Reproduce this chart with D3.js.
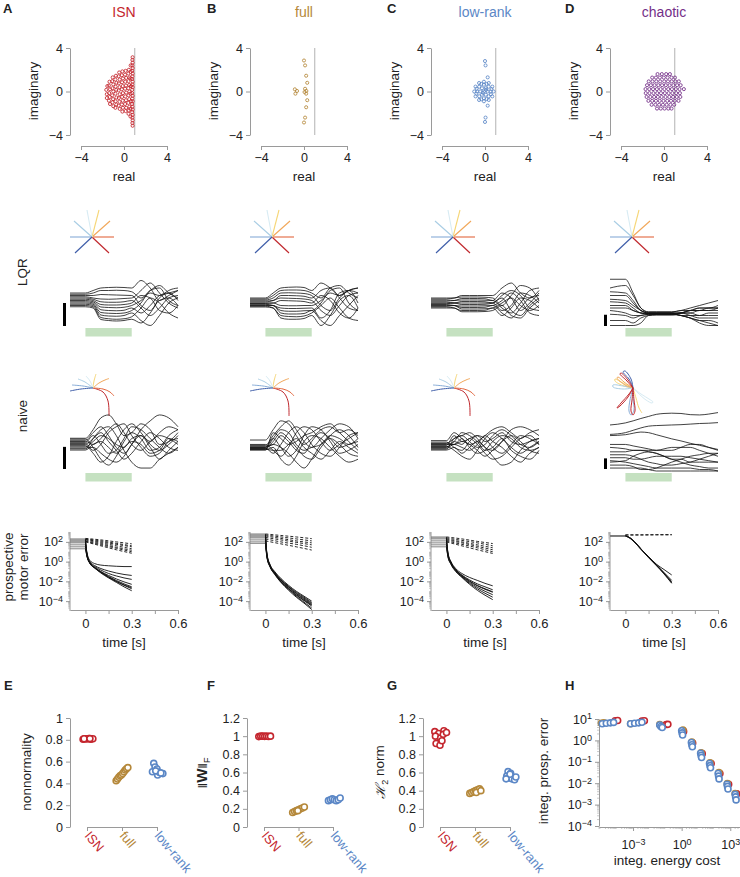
<!DOCTYPE html>
<html><head><meta charset="utf-8">
<script src="https://cdn.jsdelivr.net/npm/d3@7/dist/d3.min.js"></script>
<style>
body{margin:0;background:#fff;}
svg text{font-family:"Liberation Sans",Arial,Helvetica,sans-serif;fill:#222;}
</style></head><body>
<svg id="fig" width="740" height="877" viewBox="0 0 740 877"></svg>
<script>
// ================= DATA =================
const models = ["ISN","full","low-rank","chaotic"];
const letters = ["A","B","C","D"];
const modelColors = ["#c4262e","#b5883a","#5b87c6","#742f88"];
const eigTicks = [-4,0,4];

// eigenvalues [real, imaginary]
const isnEig = [
 [0.8,3.15],[0.78,2.9],[0.8,2.65],[0.77,2.4],[0.8,2.15],[0.76,1.9],[0.8,1.65],[0.78,1.4],[0.75,1.15],[0.8,0.9],[0.77,0.65],[0.8,0.4],[0.76,0.15],
 [0.8,-3.15],[0.78,-2.9],[0.8,-2.65],[0.77,-2.4],[0.8,-2.15],[0.76,-1.9],[0.8,-1.65],[0.78,-1.4],[0.75,-1.15],[0.8,-0.9],[0.77,-0.65],[0.8,-0.4],[0.76,-0.15],
 [-1.65,0.15],[-1.6,-0.25],[-1.55,0.5],[-1.6,-0.6],
 [-1.35,0.9],[-1.4,0.55],[-1.3,0.2],[-1.38,-0.15],[-1.32,-0.5],[-1.4,-0.85],[-1.3,-1.15],
 [-1.05,1.3],[-1.1,0.95],[-1.0,0.65],[-1.08,0.3],[-1.0,0.0],[-1.1,-0.35],[-1.02,-0.7],[-1.08,-1.0],[-1.0,-1.35],
 [-0.75,1.45],[-0.8,1.1],[-0.7,0.8],[-0.78,0.45],[-0.72,0.15],[-0.8,-0.2],[-0.7,-0.55],[-0.78,-0.9],[-0.72,-1.2],[-0.8,-1.5],
 [-0.45,1.75],[-0.5,1.4],[-0.4,1.1],[-0.48,0.75],[-0.42,0.4],[-0.5,0.1],[-0.4,-0.25],[-0.48,-0.6],[-0.42,-0.95],[-0.5,-1.3],[-0.4,-1.6],
 [-0.15,1.85],[-0.2,1.5],[-0.1,1.2],[-0.18,0.85],[-0.12,0.5],[-0.2,0.2],[-0.1,-0.15],[-0.18,-0.5],[-0.12,-0.85],[-0.2,-1.2],[-0.1,-1.5],[-0.15,-1.85],
 [0.15,1.9],[0.1,1.55],[0.2,1.25],[0.12,0.9],[0.18,0.55],[0.1,0.25],[0.2,-0.1],[0.12,-0.45],[0.18,-0.8],[0.1,-1.15],[0.2,-1.5],[0.15,-1.8],
 [0.45,2.0],[0.4,1.65],[0.5,1.3],[0.42,0.95],[0.48,0.6],[0.4,0.3],[0.5,0.0],[0.42,-0.35],[0.48,-0.7],[0.4,-1.05],[0.5,-1.4],[0.45,-1.75],[0.42,-2.05],
 [0.62,1.8],[0.6,1.2],[0.65,0.5],[0.6,-0.2],[0.65,-0.9],[0.6,-1.6],[0.62,2.4],[0.6,-2.3]
];
const fullEig = [[0,2.85],[0.1,2.4],[0.2,1.45],[0.3,0.8],[0.1,0.25],[0.22,0.05],[0.05,-0.05],[0.2,-0.2],
 [-0.85,0.2],[-0.65,0.05],[-0.8,-0.2],[0.3,-0.8],[0.2,-1.45],[0.1,-2.4],[0,-2.85]];
const lowEig = [[0.0,2.8],[0.05,2.4],[0.25,1.3],[0.25,-1.3],[0.05,-2.4],[0.0,-2.8],
 [0.8,0],[0.68,0.45],[0.35,0.78],[-0.1,0.9],[-0.55,0.78],[-0.88,0.45],[-1.0,0],[-0.88,-0.45],[-0.55,-0.78],[-0.1,-0.9],[0.35,-0.78],[0.68,-0.45],
 [0.52,0],[0.34,0.44],[-0.1,0.62],[-0.54,0.44],[-0.72,0],[-0.54,-0.44],[-0.1,-0.62],[0.34,-0.44],
 [0.25,0],[0.08,0.3],[-0.28,0.3],[-0.45,0],[-0.28,-0.3],[0.08,-0.3],
 [-0.1,0],[0.1,0.15],[-0.2,-0.12],
 [0.6,0.22],[0.55,-0.25],[-0.78,0.25],[-0.8,-0.2],[0.15,0.7],[-0.35,0.7],[0.15,-0.7],[-0.35,-0.72]];
// chaotic eigenvalues, rows of [imaginary, [reals]]
const chaoticRows = [
 [1.6,[-0.6,-0.2,0.2,0.55]],
 [1.28,[-1.1,-0.75,-0.38,-0.02,0.33,0.7,1.02]],
 [0.93,[-1.42,-1.07,-0.72,-0.36,0.02,0.37,0.72,1.05,1.38]],
 [0.58,[-1.58,-1.22,-0.88,-0.53,-0.18,0.17,0.52,0.87,1.22,1.55]],
 [0.22,[-1.72,-1.37,-1.02,-0.66,-0.31,0.04,0.39,0.74,1.1,1.45,1.85]],
 [-0.15,[-1.7,-1.35,-0.98,-0.63,-0.28,0.08,0.43,0.78,1.13,1.48]],
 [-0.5,[-1.62,-1.27,-0.92,-0.57,-0.22,0.14,0.49,0.84,1.19,1.52]],
 [-0.86,[-1.45,-1.1,-0.75,-0.4,-0.05,0.3,0.65,1.0,1.35]],
 [-1.22,[-1.15,-0.8,-0.45,-0.1,0.25,0.6,0.95]],
 [-1.57,[-0.65,-0.3,0.05,0.4,0.7]]
];

// single-neuron activity traces (arbitrary units) at these times [s]
const trajT = [-0.1,0,0.05,0.1,0.15,0.2,0.25,0.3,0.36,0.42,0.48,0.54,0.6];
const lqrISN = [
 [4,4,5,6,6.2,6.3,6.2,6,9,6,1,3,5],
 [3.5,3.5,4,5,5,5.1,5,4.5,2,5,7,4,2],
 [3,3,3,3.4,3.3,3.2,3.1,3,-1,-3,2,5,6],
 [2.5,2.5,2,1.6,1.5,1.6,1.8,2,5,8,4,0,-2],
 [2,2,1.5,0.5,0.3,0.3,0.5,1,-2,-5,-2,2,3],
 [1.5,1.5,1,-0.6,-0.8,-0.8,-0.6,0,3,2,-3,-4,-1],
 [1,1,0.5,-1.6,-1.8,-1.9,-1.7,-1,1,4,3,4,5],
 [0.5,0.5,0,-2.7,-3,-3.1,-2.9,-2,-4,-1,3,4,1],
 [0,0,-0.5,-3.8,-4.1,-4.2,-4,-3,0,5,6,1,-1],
 [-0.5,-0.5,-1,-4.8,-5.2,-5.3,-5,-4,-7,-9,-5,0,2],
 [-1,-1,-1.5,-5.8,-6.3,-6.5,-6.3,-5.5,-2,2,0,-4,-6],
 [-1.5,-1.5,-2,-6.6,-7,-7.2,-7,-6.5,-8,-4,1,2,-1]
];
const lqrFull = [
 [2,2,4,6,6.3,6.4,6.2,5,8,6,3,5,4],
 [1.6,1.6,3,5,5.2,5.2,5,4,2,6,7,4,2],
 [1.2,1.2,2,4,4.1,4,3.8,3,-1,-3,2,5,6],
 [0.8,0.8,1,3,3,2.9,2.7,2,5,6,2,-2,-3],
 [0.4,0.4,1,2,1.9,1.8,1.6,1,-3,-5,-1,3,4],
 [0,0,0,1,0.9,0.8,0.6,0,3,1,-4,-6,-2],
 [-0.2,-0.2,0,-1,-1.1,-1.1,-1,-1,1,4,3,5,6],
 [-0.5,-0.5,-1,-2,-2.2,-2.2,-2.1,-2,-6,-3,4,5,0],
 [-0.8,-0.8,-1,-3,-3.3,-3.3,-3.1,-3,0,5,6,0,-3],
 [-1,-1,-1,-4,-4.4,-4.4,-4.2,-3,-7,-9,-5,-1,3],
 [-1.3,-1.3,-2,-5,-5.4,-5.5,-5.2,-4,-1,2,-2,-6,-7],
 [-1.6,-1.6,-2,-6,-6.5,-6.5,-6.2,-5,-9,-5,1,3,-2]
];
const lqrLow = [
 [2,2,2,3,3,3,3,3,6,8,4,2,5],
 [1.6,1.6,2,2.4,2.4,2.4,2.3,2,-1,3,7,6,1],
 [1.2,1.2,1,1.8,1.8,1.8,1.7,1,4,2,-3,0,4],
 [0.8,0.8,1,1.2,1.2,1.2,1.1,1,-2,-4,0,5,6],
 [0.4,0.4,0,0.6,0.6,0.6,0.5,0,3,5,3,-2,-3],
 [0,0,0,0,0,0,0,0,-3,-1,4,3,0],
 [-0.3,-0.3,0,-0.6,-0.6,-0.6,-0.5,0,2,-3,-5,-1,2],
 [-0.6,-0.6,-1,-1.2,-1.2,-1.2,-1.1,-1,1,4,1,-4,-5],
 [-1,-1,-1,-1.8,-1.8,-1.8,-1.7,-1,-4,-6,-2,2,3],
 [-1.3,-1.3,-1,-2.4,-2.4,-2.4,-2.3,-2,0,2,-1,-3,-1],
 [-1.6,-1.6,-2,-3,-3,-3,-2.9,-2,-5,-2,2,1,-2],
 [-2,-2,-2,-3.5,-3.5,-3.5,-3.4,-3,-1,-5,-6,-2,1]
];
const lqrChaotic = [
 [9.5,9.5,4,-2,-3.5,-3.5,-3.5,-3.5,-3,-2,-1,0,1],
 [6,7,3,-2,-3.7,-3.7,-3.7,-3.7,-3,-3,-2,-2,-1],
 [4.5,4,1,-3,-3.9,-3.9,-3.9,-3.9,-4,-3,-3,-3,-2],
 [3,3,0,-3,-4,-4,-4,-4,-5,-5,-5,-4,-4],
 [1.5,1,-1,-3,-4.1,-4.1,-4.1,-4.1,-4,-5,-6,-6,-6],
 [0.5,0,-2,-4,-4.2,-4.2,-4.2,-4.2,-5,-6,-7,-7,-8],
 [-1,-1,-3,-4,-4.3,-4.3,-4.3,-4.3,-4,-4,-5,-5,-5],
 [-2,-2,-3,-4,-4.4,-4.4,-4.4,-4.4,-5,-6,-8,-9,-9],
 [-3,-4,-5,-5,-4.5,-4.5,-4.5,-4.5,-4,-3,-2,-2,-2],
 [-4.5,-5,-6,-5,-4.6,-4.6,-4.6,-4.6,-4,-4,-3,-3,-3],
 [-7,-7,-8,-6,-5,-4.7,-4.7,-4.7,-5,-6,-7,-8,-9],
 [-9,-9,-9,-8,-5,-4.8,-4.8,-4.8,-4,-3,-3,-2,-2]
];
const naiveISN = [
 [1.1,1.1,4,8,9,6,2,3,6,4,-1,0,3],
 [0.8,0.8,-2,-6,-8,-5,0,3,1,-3,-2,2,4],
 [0.4,0.4,3,5,2,-2,-4,-1,4,7,9,8,5],
 [0,0,-1,1,4,6,3,-1,-3,0,2,1,-1],
 [-0.3,-0.3,2,-1,-4,-3,1,5,4,1,-2,-4,-2],
 [-0.7,-0.7,-3,-1,3,5,6,2,-2,-5,-4,0,1],
 [-1,-1,1,3,0,-3,-6,-4,0,3,1,-2,-3],
 [-1.4,-1.4,-4,-7,-5,0,4,6,3,-1,-3,-1,2],
 [-1.8,-1.8,0,2,1,-1,-2,1,2,0,3,5,4],
 [-2.2,-2.2,-2,-4,-6,-7,-5,-1,2,-2,-6,-3,0],
 [-2.5,-2.5,1,4,5,2,-3,-7,-9,-9,-6,-4,-2],
 [-2.9,-2.9,-1,0,-2,-4,-2,0,-1,-4,-3,1,0]
];
const naiveFull = [
 [0.5,0.5,4,7,6,2,-1,1,4,5,3,4,2],
 [-1,-1,-3,-5,-2,3,5,4,0,-3,-1,1,3],
 [-1.3,-1.3,2,5,7,4,0,-2,1,4,6,5,1],
 [-1.6,-1.6,-1,2,0,-3,-4,0,3,1,-2,-1,0],
 [-1.9,-1.9,1,-2,-5,-3,2,5,4,0,-4,-3,-1],
 [-2.2,-2.2,-4,-1,3,5,3,-1,-4,-5,-2,2,3],
 [-2.5,-2.5,0,3,1,-2,-5,-6,-2,2,4,2,-2],
 [-2.8,-2.8,-2,-6,-8,-5,0,2,1,-2,-5,-7,-6],
 [-2.9,-2.9,3,1,-1,0,2,3,5,6,3,0,-3],
 [-2.6,-2.6,-3,-3,-1,1,-2,-4,-6,-3,0,-2,-4],
 [-2.3,-2.3,1,4,3,-1,-3,-2,-1,2,1,-1,1],
 [-2,-2,-1,-2,-4,-7,-9,-6,-1,1,-1,-4,-5]
];
const naiveLow = [
 [0.3,0.3,3,1,-1,0,2,4,5,3,1,3,4],
 [-0.2,-0.2,-2,-3,0,2,1,-2,-4,-1,2,1,-1],
 [-0.6,-0.6,1,2,3,1,-2,-3,0,4,5,4,2],
 [-1,-1,-1,1,-2,-4,-3,0,2,1,-2,-3,-2],
 [-1.3,-1.3,2,0,1,2,0,1,3,0,-1,0,1],
 [-1.6,-1.6,-3,-5,-6,-3,1,3,1,-2,-4,-2,0],
 [-2,-2,0,-1,1,-1,-4,-6,-5,-2,1,2,-1],
 [-2.3,-2.3,-1,-2,-3,-1,2,0,-2,-5,-7,-4,-2],
 [-2.6,-2.6,1,2,0,-2,-1,2,4,2,-1,-2,0],
 [-2.9,-2.9,-2,-4,-2,0,-2,-5,-8,-7,-3,0,1],
 [-1.8,-1.8,0,3,2,0,-3,-2,1,-3,-5,-6,-3],
 [-0.8,-0.8,-1,0,-1,-3,-5,-3,0,2,0,-3,-4]
];
const naiveChaotic = [
 [5.6,6.3,7,7.8,8.5,9.2,9.5,9.6,9.5,9.1,9.0,9.3,9.8],
 [2.4,3,3.8,4.6,5.2,5.4,5.5,5.6,5.7,5.9,6.1,6.2,6.4],
 [2,2.3,2.8,3.2,3,2.3,1.6,0.9,0.2,-0.6,-1.3,-2,-2.7],
 [-1,-1,-1.5,-2,-2.5,-3,-3,-3,-2,-1,-1,-2,-3],
 [-2,-2.5,-3,-3,-3,-3,-2.5,-2,-2,-2,-3,-4,-5],
 [-3.5,-3.5,-3,-3,-3.5,-4,-5,-6,-6,-7,-7,-7,-7],
 [-4.5,-4.5,-5,-6,-7,-7.5,-8,-8,-7.5,-7,-6,-5,-4],
 [-5.5,-5.5,-6,-6,-5.5,-5,-5,-5,-5,-5.5,-6,-6.5,-7],
 [-6.5,-7,-7.5,-8,-8.5,-9,-9,-9,-9,-9,-9.5,-9.5,-10],
 [-8,-8,-8.5,-9.5,-9.5,-9,-8,-7,-6,-5,-4.5,-4,-4],
 [-9,-9,-9,-9,-9.5,-10,-10,-10,-10,-10,-10,-10,-10],
 [-7,-6.5,-5,-4,-3.5,-4,-5,-6,-7,-8,-8.5,-9,-9]
];
const lqrBar = [9.2,null,null,4.5];
const naiveBar = [7.5,null,null,3.6];

// hand reaches (cm), 8 targets
const reachColors = ["#c0282d","#e2673f","#f1a75a","#f6d677","#d7ebf3","#a9cde4","#87acd7","#3f5ea9"];
const lqrReach = [[1.7,-1.6],[2.2,0],[1.8,1.6],[0.7,2.7],[-0.5,2.7],[-1.8,1.6],[-2.2,0],[-1.7,-1.6]];
const naiveReach = [
 [[0,0],[1,-0.4],[1.5,-1.3],[1.6,-2.8]],
 [[0,0],[1,-0.1],[1.7,-0.4],[2.1,-0.8]],
 [[0,0],[0.6,0.5],[1.2,0.8],[1.6,0.95]],
 [[0,0],[0.1,0.7],[0.3,1.4]],
 [[0,0],[-0.3,0.7],[-0.7,1.2]],
 [[0,0],[-0.8,0.6],[-1.5,0.9]],
 [[0,0],[-1,0.2],[-2.1,0.3]],
 [[0,0],[-1.2,-0.1],[-2.3,-0.3]]
];
const chaoticReach = [
 [[0,0],[-1,0.5],[-1.8,0.9],[-1.8,0.7],[-0.9,0.2],[0,0]],
 [[0,0],[-1,0.2],[-2,0.3],[-2,0.1],[-1,-0.1],[0,0]],
 [[0,0],[0.8,-0.6],[1.6,-1.1],[2.0,-1.4],[1.9,-1.5],[1.3,-1.2],[0.5,-0.5],[0,0]],
 [[0,0],[-0.9,0.6],[-1.5,1.1],[-1.6,1.0],[-0.8,0.3],[0,0]],
 [[0,0],[0.3,-1],[0.6,-2],[0.9,-2.5]],
 [[0,0],[-0.4,0.9],[-1.0,1.6],[-0.8,1.7],[-0.2,0.9],[0,0]],
 [[0,0],[-0.3,-1.2],[-0.4,-2.3],[-0.2,-2.7],[0.1,-2.2],[0,-1.1],[0,0]],
 [[0,0],[-0.7,0.8],[-1.3,1.4],[-1.2,1.5],[-0.5,0.8],[0,0]],
 [[0,0],[-0.5,-0.9],[-1.3,-1.8],[-1.6,-2.0],[-1.2,-1.5],[-0.4,-0.6],[0,0]],
 [[0,0],[-0.1,-1.2],[-0.2,-2.3],[0,-2.7],[0.2,-2.3],[0.1,-1.2],[0,0]]
];
const chaoticReachColor = [3,5,4,2,3,7,6,0,0,0];

// prospective motor error, log10 values
const errT = [-0.1,0,0.01,0.03,0.06,0.1,0.15,0.2,0.25,0.3];
const errSolid = [
 [[2.3,2.3,0.9,0.1,-0.2,-0.35,-0.42,-0.47,-0.5,-0.5],
  [2.1,2.1,0.8,0,-0.4,-0.7,-0.95,-1.15,-1.3,-1.4],
  [1.9,1.9,0.7,-0.1,-0.5,-0.85,-1.2,-1.45,-1.65,-1.8],
  [1.7,1.7,0.6,-0.15,-0.6,-1.0,-1.4,-1.75,-2.05,-2.3],
  [1.5,1.5,0.6,-0.2,-0.62,-1.05,-1.5,-1.9,-2.25,-2.55],
  [2.2,2.2,0.7,-0.2,-0.65,-1.1,-1.6,-2.0,-2.4,-2.75],
  [1.3,1.3,0.5,-0.2,-0.65,-1.15,-1.65,-2.1,-2.55,-2.95],
  [2.0,2.0,0.7,-0.15,-0.6,-1.05,-1.55,-2.0,-2.35,-2.65]],
 [[2.8,2.8,0.8,-0.3,-1.0,-1.7,-2.4,-3.0,-3.5,-4.0],
  [2.6,2.6,0.7,-0.35,-1.1,-1.8,-2.5,-3.1,-3.6,-4.15],
  [2.4,2.4,0.6,-0.4,-1.15,-1.9,-2.6,-3.25,-3.8,-4.35],
  [2.2,2.2,0.5,-0.5,-1.2,-2.0,-2.75,-3.4,-3.95,-4.5],
  [2.0,2.0,0.5,-0.5,-1.25,-2.05,-2.8,-3.5,-4.1,-4.7],
  [1.85,1.85,0.4,-0.55,-1.3,-2.1,-2.9,-3.6,-4.2,-4.85],
  [2.5,2.5,0.6,-0.45,-1.2,-2.0,-2.7,-3.35,-3.9,-4.4],
  [2.7,2.7,0.7,-0.4,-1.1,-1.85,-2.55,-3.2,-3.7,-4.25]],
 [[2.5,2.5,0.9,0.0,-0.7,-1.2,-1.6,-1.9,-2.2,-2.45],
  [2.3,2.3,0.8,-0.1,-0.8,-1.35,-1.85,-2.25,-2.55,-2.85],
  [2.1,2.1,0.7,-0.15,-0.85,-1.45,-2.0,-2.45,-2.8,-3.1],
  [1.9,1.9,0.6,-0.2,-0.9,-1.5,-2.1,-2.6,-3.0,-3.35],
  [1.7,1.7,0.5,-0.25,-0.95,-1.55,-2.2,-2.75,-3.2,-3.6],
  [1.5,1.5,0.5,-0.3,-1.0,-1.6,-2.3,-2.9,-3.4,-3.85],
  [2.4,2.4,0.8,-0.1,-0.8,-1.4,-1.95,-2.4,-2.75,-3.05]],
 [[2.6,2.6,2.55,2.4,2.0,1.3,0.5,-0.3,-1.1,-1.9],
  [2.6,2.6,2.55,2.4,2.0,1.3,0.45,-0.35,-1.15,-2.05],
  [2.6,2.6,2.55,2.4,1.95,1.25,0.45,-0.35,-1.2,-2.15],
  [2.6,2.6,2.55,2.4,2.0,1.3,0.5,-0.25,-0.8,-1.35],
  [2.6,2.6,2.55,2.35,1.95,1.25,0.4,-0.4,-1.25,-2.2]]
];
const dashT = [0,0.1,0.2,0.3];
const errDashed = [
 [[2.35,2.2,2.0,1.8],[2.3,2.1,1.85,1.6],[2.25,2.0,1.75,1.5],[2.2,1.9,1.6,1.3],[2.1,1.8,1.45,1.15],[2.05,1.7,1.35,1.0],[2.0,1.6,1.2,0.85]],
 [[2.8,2.65,2.5,2.33],[2.7,2.5,2.3,2.1],[2.6,2.35,2.1,1.9],[2.45,2.2,1.95,1.7],[2.3,2.0,1.75,1.45],[2.1,1.8,1.5,1.17]],
 [[2.5,2.3,2.05,1.83],[2.4,2.15,1.9,1.6],[2.3,2.0,1.7,1.4],[2.2,1.9,1.55,1.2],[2.1,1.75,1.4,1.0],[2.0,1.6,1.2,0.83]],
 [[2.7,2.7,2.72,2.73],[2.7,2.71,2.72,2.72]]
];

// summary panels E-G
const cats = ["ISN","full","low-rank"];
const catColors = ["#c4262e","#b5883a","#5b87c6"];
const nnVals = [[0.805,0.81,0.808,0.812,0.806,0.81,0.809,0.811],
 [0.425,0.44,0.456,0.47,0.477,0.49,0.507,0.523,0.535,0.545],
 [0.584,0.55,0.532,0.507,0.49,0.477,0.5,0.515,0.495]];
const nnJit = [[-0.6,-0.3,0,0.3,0.6,0.9,-0.45,0.45],
 [-0.9,-0.7,-0.5,-0.3,-0.1,0.1,0.3,0.5,0.7,0.9],
 [-0.5,-0.3,0,-0.7,0.9,0.1,0.4,-0.2,0.6]];
const wfVals = [[0.995,1.0,1.0,0.998,1.0,0.997,1.0],
 [0.16,0.17,0.18,0.19,0.2,0.21,0.22,0.18],
 [0.29,0.3,0.31,0.3,0.29,0.3,0.32]];
const wfJit = [[-0.8,-0.5,-0.2,0.1,0.4,0.7,1.0],
 [-0.9,-0.6,-0.3,0,0.3,0.6,0.9,-0.1],
 [-0.7,-0.4,-0.1,0.2,0.5,0.8,1.1]];
const h2Vals = [[1.05,1.03,1.06,1.0,0.98,1.02,0.92,0.9,0.95,1.04],
 [0.37,0.38,0.39,0.4,0.41,0.42,0.38,0.4],
 [0.61,0.59,0.56,0.54,0.53,0.52,0.55,0.58,0.53]];
const h2Jit = [[-0.8,-0.2,0.6,-0.7,0.1,0.5,-0.6,0.0,0.3,1.0],
 [-0.8,-0.5,-0.2,0.1,0.4,0.7,0.2,0.9],
 [-0.3,0.1,-0.5,-0.2,0.3,0.7,0.9,0.0,-0.6]];
const unitTicks = [0,0.2,0.4,0.6,0.8,1];
const unitTicks12 = [0,0.2,0.4,0.6,0.8,1,1.2];

// panel H: [log10 energy cost, log10 prospective error]
const hISN = [[-4.1,0.92],[-3.95,0.93],[-2.45,0.9],[-2.3,0.92],[-0.95,0.74],[-0.85,0.75],[0.12,0.42],[0.68,-0.12],[1.27,-0.62],[1.82,-1.08],[2.36,-1.55],[2.9,-2.05],[3.4,-2.5]];
const hFull = [[-4.95,0.8],[-4.8,0.82],[-3.15,0.78],[-1.35,0.74],[0.08,0.48],[0.63,-0.08],[1.2,-0.58],[1.75,-1.05],[2.3,-1.5],[2.82,-2.02],[3.3,-2.48]];
const hLow = [[-4.9,0.78],[-4.65,0.8],[-4.4,0.82],[-4.2,0.84],
 [-3.15,0.78],[-2.9,0.8],[-2.65,0.82],[-2.45,0.85],
 [-1.35,0.72],[-1.28,0.65],[-1.2,0.6],
 [0.0,0.45],[0.03,0.35],[0.06,0.25],
 [0.6,-0.1],[0.63,-0.2],[0.66,-0.3],
 [1.17,-0.6],[1.2,-0.7],[1.23,-0.8],
 [1.72,-1.08],[1.75,-1.18],[1.78,-1.28],
 [2.25,-1.55],[2.28,-1.67],[2.31,-1.8],
 [2.8,-2.05],[2.83,-2.15],[2.86,-2.27],
 [3.3,-2.52],[3.33,-2.64],[3.36,-2.78]];

// ================= DRAWING =================
const svg = d3.select("#fig");
const colX = [0,180,361,540];
const AX = "#9a9a9a";

function styleAxis(g, fs){
  g.select(".domain").attr("stroke",AX).attr("stroke-width",1);
  g.selectAll(".tick line").attr("stroke",AX).attr("stroke-width",1);
  g.selectAll(".tick text").attr("fill","#222").style("font-size",(fs||12.5)+"px");
}
function label(x,y,s,opt={}){
  const t = svg.append("text").attr("x",x).attr("y",y).attr("text-anchor",opt.anchor||"middle")
    .style("font-size",(opt.fs||13.5)+"px").text(s);
  if(opt.rot) t.attr("transform",`rotate(${opt.rot},${x},${y})`);
  if(opt.fill) t.style("fill",opt.fill);
  if(opt.bold) t.style("font-weight","bold");
  return t;
}
function sup(sel){
  sel.each(function(d){
    const e = Math.round(Math.log10(d));
    const t = d3.select(this); t.text("10");
    t.append("tspan").attr("dy","-0.45em").style("font-size","9px").text(e<0?"\u2212"+(-e):e);
  });
}
function logMinor(g, scale, orient, pos, lo, hi){
  for(let k=lo;k<=hi;k++){
    for(let m=2;m<=9;m++){
      const v=m*Math.pow(10,k);
      const d=scale.domain(); if(v<Math.min(...d)||v>Math.max(...d)) continue;
      const p=scale(v);
      if(orient==="left") g.append("line").attr("x1",pos).attr("x2",pos-2).attr("y1",p).attr("y2",p);
      else g.append("line").attr("y1",pos).attr("y2",pos+2).attr("x1",p).attr("x2",p);
    }
  }
  g.selectAll("line").attr("stroke","#bbb").attr("stroke-width",0.8);
}

// ---- row 1: eigenvalue spectra ----
const letterX = [3,207,387,565];
const chaoticEig = chaoticRows.flatMap(([im,res])=>res.map(re=>[re,im]));
const eigSets = [isnEig, fullEig, lowEig, chaoticEig];
models.forEach((m,c)=>{
  const ox = colX[c];
  label(letterX[c], 13, letters[c], {anchor:"start", fs:13, bold:true});
  label(124+ox, 17, m, {fs:14, fill:modelColors[c]});
  const x = d3.scaleLinear([-4,4],[81+ox,167+ox]);
  const y = d3.scaleLinear([-4,4],[135,48]);
  const gy = svg.append("g").attr("transform",`translate(${70+ox},0)`)
    .call(d3.axisLeft(y).tickValues(eigTicks).tickSize(4).tickSizeOuter(0).tickPadding(3));
  styleAxis(gy);
  const gx = svg.append("g").attr("transform",`translate(0,146)`)
    .call(d3.axisBottom(x).tickValues(eigTicks).tickSize(4).tickSizeOuter(0).tickPadding(3));
  styleAxis(gx);
  svg.append("line").attr("x1",x(1)).attr("x2",x(1)).attr("y1",y(4)).attr("y2",y(-4))
    .attr("stroke","#aaa").attr("stroke-width",0.9);
  svg.append("g").selectAll("circle").data(eigSets[c]).join("circle")
    .attr("cx",d=>x(d[0])).attr("cy",d=>y(d[1])).attr("r",1.55)
    .attr("fill","none").attr("stroke",modelColors[c]).attr("stroke-width",0.85);
  label(124+ox, 181, "real");
  label(38+ox, 91, "imaginary", {rot:-90});
});

// ---- rows 2-3: reaches and neural activity ----
label(27, 272, "LQR", {rot:-90});
label(27, 416, "naive", {rot:-90});
const lqrSets = [lqrISN, lqrFull, lqrLow, lqrChaotic];
const naiveSets = [naiveISN, naiveFull, naiveLow, naiveChaotic];
function timeScale(c){ return d3.scaleLinear([-0.1,0.6],[70+colX[c],178+colX[c]]); }
function drawStar(cx, cy, paths, colors, curve, w){
  const sx = d3.scaleLinear([-1,1],[cx-10,cx+10]);
  const sy = d3.scaleLinear([-1,1],[cy+10,cy-10]);
  const ln = d3.line().x(d=>sx(d[0])).y(d=>sy(d[1])).curve(curve);
  svg.append("g").selectAll("path").data(paths).join("path")
    .attr("d",ln).attr("fill","none").attr("stroke",(d,i)=>colors[i]).attr("stroke-width",w);
}
function drawTraces(c, data, yr, barY, barLen, bar){
  const x = timeScale(c);
  const y = d3.scaleLinear([-10,10], yr);
  const ln = d3.line().x((d,i)=>x(trajT[i])).y(d=>y(d)).curve(d3.curveMonotoneX);
  svg.append("g").selectAll("path").data(data).join("path")
    .attr("d",ln).attr("fill","none").attr("stroke","#111").attr("stroke-width",0.8);
  svg.append("rect").attr("x",x(0)).attr("width",x(0.3)-x(0)).attr("y",barY).attr("height",8.5)
    .attr("fill","#c5e1c1");
  if(bar!=null){
    const pxPerUnit = Math.abs(y(1)-y(0));
    svg.append("rect").attr("x",63+colX[c]+(c===3?1:0)).attr("width",3)
      .attr("y",barLen-bar*pxPerUnit).attr("height",bar*pxPerUnit).attr("fill","#000");
  }
}
models.forEach((m,c)=>{
  const ox = colX[c];
  drawStar(92+ox, 237, lqrReach.map(e=>[[0,0],e]), reachColors, d3.curveLinear, 1.1);
  drawTraces(c, lqrSets[c], [328,278], 328, 326, lqrBar[c]);
  if(c<3) drawStar(93+ox, 388, naiveReach, reachColors, d3.curveCatmullRom, 1.0);
  else drawStar(633, 388, chaoticReach, chaoticReachColor.map(i=>reachColors[i]), d3.curveCatmullRom, 1.0);
  drawTraces(c, naiveSets[c], [471,412], 473, 469, naiveBar[c]);
});

// ---- row 4: prospective motor error ----
label(13, 567, "prospective", {rot:-90});
label(28, 567, "motor error", {rot:-90});
models.forEach((m,c)=>{
  const ox = colX[c];
  const x = timeScale(c);
  const y = d3.scaleLog([1e-5,1e3],[611,532]);
  const gm = svg.append("g"); logMinor(gm, y, "left", 70+ox, -5, 2);
  const gy = svg.append("g").attr("transform",`translate(${70+ox},0)`)
    .call(d3.axisLeft(y).tickValues([1e-4,1e-2,1,1e2]).tickSize(4).tickSizeOuter(0).tickPadding(3));
  styleAxis(gy); sup(gy.selectAll(".tick text"));
  gy.select(".domain").attr("d",`M0,${y(1e3)}V${y(1e-5)}`);
  const gx = svg.append("g").attr("transform",`translate(0,610)`)
    .call(d3.axisBottom(x).tickValues([0,0.15,0.3,0.45,0.6]).tickSize(4).tickSizeOuter(0).tickPadding(5)
      .tickFormat(d=>[0,0.3,0.6].includes(d)?d3.format("")(d):""));
  styleAxis(gx, 13);
  label(124+ox, 647, "time [s]");
  const ln = d3.line().x(d=>x(d[0])).y(d=>y(Math.pow(10,d[1]))).curve(d3.curveMonotoneX);
  errSolid[c].forEach(v=>{
    const pts = errT.map((t,i)=>[t,v[i]]);
    svg.append("path").attr("d",ln(pts.slice(0,2))).attr("fill","none").attr("stroke","#777").attr("stroke-width",0.9);
    svg.append("path").attr("d",ln(pts.slice(1))).attr("fill","none").attr("stroke","#111").attr("stroke-width",0.9);
  });
  errDashed[c].forEach(v=>{
    svg.append("path").attr("d",ln(dashT.map((t,i)=>[t,v[i]]))).attr("fill","none")
      .attr("stroke","#111").attr("stroke-width",0.9).attr("stroke-dasharray","3,2");
  });
});

// ---- row 5: E, F, G ----
const botLetters = ["E","F","G","H"];
botLetters.forEach((L,i)=>label(letterX[i]+(i===0?1:0), 690, L, {anchor:"start", fs:13, bold:true}));
function summary(axX, x0, x1, dom, ticks, vals, jit){
  const y = d3.scaleLinear(dom,[827,718]);
  const x = d3.scalePoint(cats,[x0,x1]);
  const fmt = d=> d===0?"0":(d===1?"1":d3.format(".1f")(d));
  const gy = svg.append("g").attr("transform",`translate(${axX},0)`)
    .call(d3.axisLeft(y).tickValues(ticks).tickFormat(fmt).tickSize(4).tickSizeOuter(0).tickPadding(3));
  styleAxis(gy);
  const gx = svg.append("g").attr("transform",`translate(0,827)`)
    .call(d3.axisBottom(x).tickSize(4).tickSizeOuter(0).tickFormat(""));
  styleAxis(gx);
  cats.forEach((k,i)=>{
    label(x(k)-3, 836, k, {anchor:"start", fs:13, rot:50, fill:catColors[i]});
    svg.append("g").selectAll("circle").data(vals[i]).join("circle")
      .attr("cx",(d,j)=>x(k)+jit[i][j]*6.5).attr("cy",d=>y(d)).attr("r",3)
      .attr("fill","#fff").attr("stroke",catColors[i]).attr("stroke-width",1.6);
  });
}
summary(70, 87, 157, [0,1], unitTicks, nnVals, nnJit);
label(31, 772, "nonnormality", {rot:-90});
summary(247, 264, 333, [0,1.2], unitTicks12, wfVals, wfJit);
{
  const t = label(207, 773, "", {rot:-90});
  t.append("tspan").text("\u2016");
  t.append("tspan").style("font-weight","bold").style("font-size","15px").text("W");
  t.append("tspan").text("\u2016");
  t.append("tspan").attr("dy","0.35em").style("font-size","9px").text("F");
}
summary(423, 440, 510, [0,1.2], unitTicks12, h2Vals, h2Jit);
{
  const t = label(385, 772, "", {rot:-90});
  t.append("tspan").style("font-family","DejaVu Serif").style("font-style","italic").text("\u210B");
  t.append("tspan").attr("dy","0.3em").style("font-size","9px").text("2");
  t.append("tspan").attr("dy","-0.3em").text(" norm");
}

// ---- H ----
{
  const x = d3.scaleLog([Math.pow(10,-5.1),Math.pow(10,3.6)],[599,740]);
  const y = d3.scaleLog([1e-4,1e1],[826,719]);
  const gm = svg.append("g"); logMinor(gm, y, "left", 599, -4, 0);
  const gm2 = svg.append("g"); logMinor(gm2, x, "bottom", 827, -6, 3);
  const gy = svg.append("g").attr("transform",`translate(599,0)`)
    .call(d3.axisLeft(y).tickValues([1e-4,1e-3,1e-2,1e-1,1,10]).tickSize(4).tickSizeOuter(0).tickPadding(3));
  styleAxis(gy); sup(gy.selectAll(".tick text"));
  const gx = svg.append("g").attr("transform",`translate(0,827)`)
    .call(d3.axisBottom(x).tickValues([1e-3,1,1e3]).tickSize(4).tickSizeOuter(0).tickPadding(4));
  styleAxis(gx); sup(gx.selectAll(".tick text"));
  gx.selectAll(".tick text").attr("dy","1.1em");
  const sets = [[hISN,catColors[0]],[hFull,catColors[1]],[hLow,catColors[2]]];
  sets.forEach(([d,col])=>{
    svg.append("g").selectAll("circle").data(d).join("circle")
      .attr("cx",p=>x(Math.pow(10,p[0]))).attr("cy",p=>y(Math.pow(10,p[1]))).attr("r",3)
      .attr("fill","#fff").attr("stroke",col).attr("stroke-width",1.6);
  });
  label(548, 771, "integ. prosp. error", {rot:-90});
  label(667, 865, "integ. energy cost");
}
</script></body></html>
